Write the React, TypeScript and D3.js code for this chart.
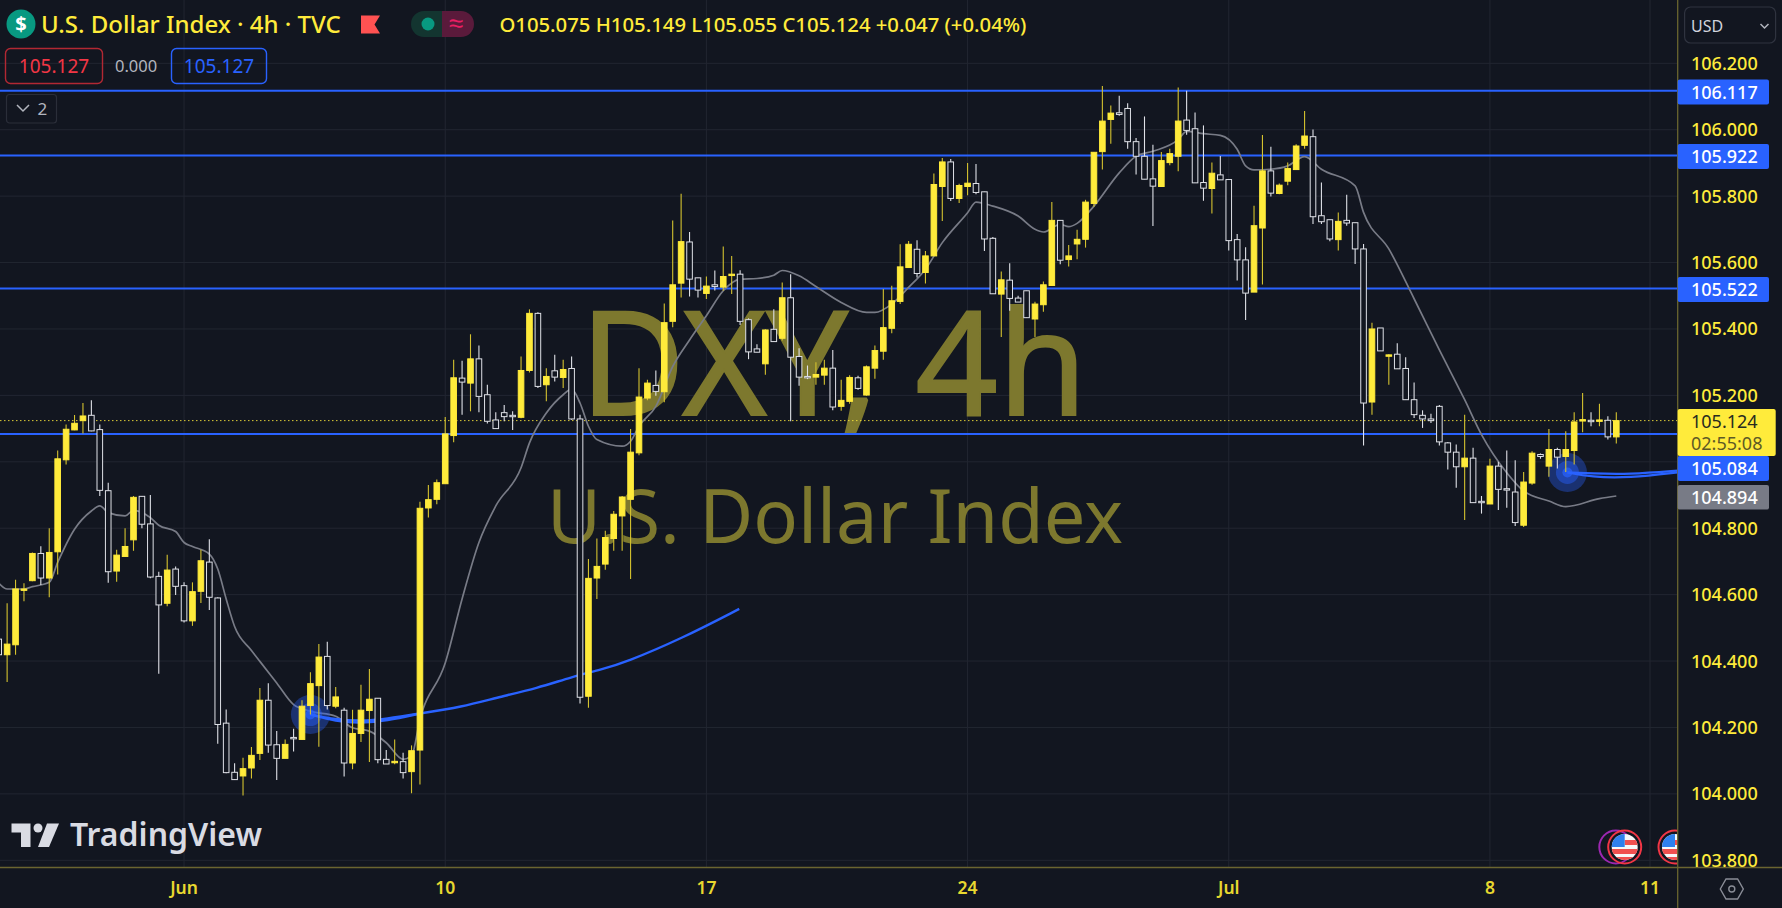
import React from 'react';
import * as d3 from 'd3';

// candles, one row = 10 candles (4h bars)
const opens = [
  104.466, 104.419, 104.449, 104.615, 104.642, 104.724, 104.650, 104.729, 105.006, 105.096,
  105.124, 105.140, 105.097, 104.913, 104.671, 104.715, 104.765, 104.896, 104.813, 104.655,
  104.574, 104.677, 104.627, 104.521, 104.610, 104.698, 104.590, 104.213, 104.065, 104.054,
  104.078, 104.122, 104.282, 104.148, 104.107, 104.170, 104.164, 104.266, 104.326, 104.414,
  104.264, 104.252, 104.093, 104.182, 104.251, 104.288, 104.104, 104.095, 104.097, 104.067,
  104.132, 104.861, 104.887, 104.934, 105.079, 105.252, 105.237, 105.310, 105.202, 105.126,
  105.148, 105.140, 105.134, 105.275, 105.447, 105.232, 105.274, 105.254, 105.281, 105.129,
  104.294, 104.650, 104.692, 104.769, 104.837, 104.887, 105.027, 105.192, 105.230, 105.211,
  105.423, 105.538, 105.662, 105.554, 105.507, 105.533, 105.526, 105.562, 105.565, 105.428,
  105.340, 105.295, 105.399, 105.372, 105.494, 105.317, 105.257, 105.255, 105.261, 105.282,
  105.167, 105.182, 105.253, 105.201, 105.282, 105.333, 105.402, 105.483, 105.585, 105.640,
  105.570, 105.620, 105.829, 105.903, 105.793, 105.829, 105.838, 105.813, 105.673, 105.505,
  105.547, 105.493, 105.515, 105.430, 105.473, 105.531, 105.727, 105.609, 105.656, 105.670,
  105.778, 105.934, 106.031, 106.051, 106.064, 105.964, 105.920, 105.852, 105.829, 105.901,
  105.920, 106.029, 106.003, 105.841, 105.823, 105.864, 105.850, 105.669, 105.608, 105.511,
  105.704, 105.876, 105.808, 105.845, 105.880, 105.953, 105.979, 105.741, 105.729, 105.669,
  105.727, 105.720, 105.641, 105.180, 105.403, 105.319, 105.324, 105.281, 105.187, 105.140,
  105.129, 105.167, 105.057, 105.029, 104.985, 105.011, 104.881, 104.873, 104.987, 104.919,
  104.909, 104.809, 104.936, 105.022, 104.987, 105.037, 105.016, 105.034, 105.124, 105.125,
  105.122, 105.125, 105.075,
];
const highs = [
  104.490, 104.574, 104.645, 104.634, 104.727, 104.746, 104.800, 105.034, 105.112, 105.141,
  105.177, 105.185, 105.112, 104.937, 104.735, 104.800, 104.897, 104.897, 104.900, 104.669,
  104.720, 104.685, 104.637, 104.637, 104.735, 104.767, 104.592, 104.254, 104.092, 104.109,
  104.141, 104.319, 104.333, 104.189, 104.164, 104.196, 104.282, 104.366, 104.451, 104.458,
  104.322, 104.259, 104.253, 104.329, 104.376, 104.288, 104.132, 104.164, 104.124, 104.146,
  104.880, 104.930, 104.947, 105.135, 105.307, 105.304, 105.384, 105.350, 105.232, 105.149,
  105.171, 105.152, 105.317, 105.459, 105.450, 105.282, 105.322, 105.307, 105.317, 105.142,
  104.707, 104.769, 104.792, 104.852, 104.897, 105.099, 105.282, 105.247, 105.275, 105.477,
  105.727, 105.807, 105.692, 105.554, 105.558, 105.576, 105.648, 105.620, 105.577, 105.432,
  105.354, 105.399, 105.459, 105.540, 105.565, 105.342, 105.290, 105.300, 105.307, 105.337,
  105.247, 105.261, 105.259, 105.290, 105.350, 105.520, 105.530, 105.655, 105.665, 105.667,
  105.635, 105.868, 105.915, 105.912, 105.837, 105.900, 105.897, 105.813, 105.677, 105.573,
  105.598, 105.500, 105.515, 105.482, 105.543, 105.782, 105.727, 105.653, 105.699, 105.789,
  105.932, 106.132, 106.073, 106.102, 106.080, 105.975, 106.040, 105.955, 105.933, 105.943,
  106.127, 106.117, 106.052, 106.013, 105.901, 105.921, 105.850, 105.686, 105.646, 105.771,
  105.984, 105.949, 105.838, 105.901, 105.956, 106.056, 106.001, 105.841, 105.729, 105.751,
  105.804, 105.720, 105.656, 105.419, 105.403, 105.324, 105.357, 105.315, 105.239, 105.155,
  105.145, 105.171, 105.060, 105.052, 105.142, 105.042, 104.897, 105.009, 105.000, 105.034,
  105.005, 104.969, 105.032, 105.025, 105.099, 105.042, 105.092, 105.149, 105.207, 105.149,
  105.175, 105.137, 105.149,
];
const lows = [
  104.400, 104.337, 104.419, 104.580, 104.640, 104.629, 104.592, 104.661, 104.992, 105.095,
  105.085, 105.092, 104.897, 104.636, 104.639, 104.714, 104.732, 104.800, 104.649, 104.362,
  104.565, 104.599, 104.516, 104.506, 104.575, 104.554, 104.151, 104.062, 104.042, 103.995,
  104.046, 104.102, 104.124, 104.042, 104.107, 104.128, 104.164, 104.239, 104.142, 104.254,
  104.258, 104.052, 104.074, 104.156, 104.096, 104.092, 104.090, 104.089, 104.046, 104.002,
  104.028, 104.832, 104.872, 104.934, 105.059, 105.142, 105.152, 105.149, 105.115, 105.100,
  105.122, 105.096, 105.131, 105.269, 105.222, 105.182, 105.242, 105.222, 105.127, 104.272,
  104.259, 104.587, 104.675, 104.732, 104.732, 104.647, 105.020, 105.185, 105.199, 105.179,
  105.405, 105.495, 105.498, 105.495, 105.490, 105.516, 105.515, 105.505, 105.412, 105.309,
  105.330, 105.262, 105.362, 105.365, 105.122, 105.229, 105.249, 105.232, 105.232, 105.155,
  105.154, 105.175, 105.217, 105.199, 105.250, 105.307, 105.387, 105.475, 105.585, 105.555,
  105.537, 105.620, 105.725, 105.785, 105.779, 105.803, 105.806, 105.635, 105.506, 105.376,
  105.455, 105.481, 105.434, 105.376, 105.452, 105.531, 105.595, 105.588, 105.610, 105.645,
  105.768, 105.880, 105.958, 106.042, 105.943, 105.865, 105.851, 105.710, 105.829, 105.893,
  105.875, 105.985, 105.840, 105.786, 105.748, 105.849, 105.636, 105.546, 105.427, 105.511,
  105.534, 105.799, 105.806, 105.833, 105.880, 105.943, 105.716, 105.716, 105.664, 105.636,
  105.711, 105.596, 105.049, 105.142, 105.334, 105.232, 105.280, 105.187, 105.132, 105.102,
  105.117, 105.049, 104.977, 104.922, 104.825, 104.877, 104.844, 104.873, 104.855, 104.862,
  104.807, 104.804, 104.931, 105.009, 104.955, 104.980, 104.969, 104.992, 105.089, 105.107,
  105.107, 105.067, 105.055,
];
const closes = [
  104.419, 104.451, 104.617, 104.617, 104.724, 104.650, 104.727, 105.009, 105.098, 105.116,
  105.138, 105.093, 104.914, 104.669, 104.719, 104.745, 104.893, 104.812, 104.653, 104.569,
  104.674, 104.625, 104.521, 104.609, 104.702, 104.592, 104.209, 104.064, 104.043, 104.076,
  104.116, 104.282, 104.147, 104.107, 104.149, 104.166, 104.264, 104.332, 104.412, 104.266,
  104.292, 104.093, 104.182, 104.252, 104.285, 104.103, 104.090, 104.098, 104.064, 104.130,
  104.860, 104.886, 104.937, 105.084, 105.253, 105.240, 105.310, 105.197, 105.122, 105.100,
  105.136, 105.136, 105.275, 105.447, 105.227, 105.257, 105.255, 105.278, 105.129, 104.291,
  104.649, 104.685, 104.772, 104.842, 104.894, 105.029, 105.195, 105.237, 105.212, 105.419,
  105.533, 105.663, 105.550, 105.517, 105.529, 105.528, 105.558, 105.565, 105.423, 105.331,
  105.330, 105.397, 105.362, 105.494, 105.315, 105.255, 105.253, 105.263, 105.282, 105.165,
  105.185, 105.254, 105.221, 105.286, 105.335, 105.404, 105.485, 105.587, 105.655, 105.567,
  105.620, 105.835, 105.903, 105.793, 105.832, 105.839, 105.811, 105.671, 105.506, 105.548,
  105.492, 105.481, 105.434, 105.475, 105.533, 105.727, 105.607, 105.620, 105.670, 105.782,
  105.932, 106.026, 106.050, 106.046, 105.964, 105.920, 105.851, 105.830, 105.907, 105.928,
  106.026, 105.998, 105.840, 105.824, 105.869, 105.849, 105.666, 105.608, 105.508, 105.711,
  105.876, 105.809, 105.833, 105.883, 105.951, 105.981, 105.738, 105.723, 105.671, 105.724,
  105.719, 105.641, 105.177, 105.400, 105.334, 105.322, 105.280, 105.187, 105.142, 105.129,
  105.124, 105.060, 105.029, 104.985, 105.011, 104.877, 104.877, 104.987, 104.917, 104.916,
  104.817, 104.939, 105.026, 105.016, 105.037, 105.014, 105.037, 105.120, 105.127, 105.122,
  105.126, 105.075, 105.124,
];

// moving average, [bar index, value]
const maBars = [0, 1, 3, 4, 6, 7, 9, 11, 12, 13, 15, 16, 18, 19, 21, 22, 23, 25, 26, 27, 28, 30, 31, 33, 35, 37, 40, 42, 44, 46, 48, 49, 50, 53, 55, 57, 59, 62, 63, 65, 67, 68, 69, 70, 71, 74, 75, 76, 78, 80, 82, 84, 86, 88, 90, 92, 93, 95, 97, 100, 103, 104, 106, 108, 110, 112, 115, 116, 118, 121, 123, 124, 126, 127, 128, 130, 133, 135, 137, 140, 141, 143, 145, 147, 148, 149, 151, 153, 155, 157, 161, 162, 165, 168, 171, 174, 176, 179, 181, 184, 186, 190, 192];
const maValues = [104.635, 104.617, 104.617, 104.624, 104.637, 104.697, 104.797, 104.852, 104.867, 104.847, 104.837, 104.854, 104.832, 104.809, 104.790, 104.757, 104.745, 104.722, 104.677, 104.587, 104.504, 104.432, 104.399, 104.334, 104.269, 104.249, 104.234, 104.199, 104.189, 104.154, 104.104, 104.114, 104.224, 104.394, 104.587, 104.757, 104.867, 104.982, 105.057, 105.147, 105.202, 105.219, 105.177, 105.107, 105.067, 105.047, 105.062, 105.107, 105.167, 105.287, 105.367, 105.440, 105.515, 105.550, 105.552, 105.562, 105.576, 105.560, 105.528, 105.480, 105.450, 105.450, 105.475, 105.525, 105.580, 105.660, 105.750, 105.782, 105.770, 105.740, 105.700, 105.692, 105.715, 105.708, 105.718, 105.770, 105.870, 105.920, 105.935, 105.970, 105.995, 105.988, 105.983, 105.941, 105.891, 105.879, 105.881, 105.891, 105.919, 105.881, 105.831, 105.751, 105.641, 105.491, 105.337, 105.187, 105.082, 104.967, 104.912, 104.882, 104.865, 104.889, 104.897];

// the two anchored blue curves
const curveABars = [37, 40, 43, 46, 50, 55, 59, 64, 68, 71.5, 74.4, 81.1, 87.9];
const curveAValues = [104.239, 104.224, 104.219, 104.226, 104.242, 104.262, 104.289, 104.319, 104.352, 104.374, 104.396, 104.468, 104.557];
const curveAFanBars = [37, 40, 43, 46, 50];
const curveAFanValues = [104.239, 104.218, 104.213, 104.220, 104.242];
const curveBBars = [186.2, 189, 193.5, 199.5];
const curveBUpper = [104.968, 104.965, 104.962, 104.974];
const curveBLower = [104.968, 104.954, 104.951, 104.969];

const priceTicks = [106.2, 106.0, 105.8, 105.6, 105.4, 105.2, 105.0, 104.8, 104.6, 104.4, 104.2, 104.0, 103.8];
// 105.000 sits under the price tags, the axis does not show it
const priceTickLabels = priceTicks.filter(t => t !== 105.0);
const levels = [106.117, 105.922, 105.522, 105.084];
const timeBars = [22, 53, 84, 115, 146, 177, 196];
const timeLabels = ['Jun', '10', '17', '24', 'Jul', '8', '11'];
const lastPrice = 105.124;

const W = 1782;
const H = 908;
const axisX = 1677.7;
const axisY = 867.5;
const BG = '#121620';
const GRID = '#222631';
const YEL = '#ffeb3b';
const BLUE = '#2962ff';
const HOLLOW = '#dfe1e7';
const FONT = '"Noto Sans", sans-serif';

const x = d3.scaleLinear().domain([0, 200]).range([-1.3, 1683.7]);
const y = d3.scaleLinear().domain([103.8, 106.2]).range([860.3, 63.3]);

const maLine = d3.line<number>()
  .x((_, i) => x(maBars[i]))
  .y(d => y(d))
  .curve(d3.curveMonotoneX);

const curveLine = (bars: number[]) => d3.line<number>()
  .x((_, i) => x(bars[i]))
  .y(d => y(d))
  .curve(d3.curveBasis);

// pulsing dot where a curve is anchored
const Blob = ({ bar, price }: { bar: number; price: number }) => (
  <g transform={`translate(${x(bar)},${y(price)})`}>
    <circle r={19.5} fill={BLUE} opacity={0.36} />
    <circle r={11.5} fill={BLUE} opacity={0.45} />
    <circle r={5} fill={BLUE} opacity={0.7} />
  </g>
);

// US flag event marker
const Flag = ({ id, cx, cy }: { id: string; cx: number; cy: number }) => (
  <g transform={`translate(${cx},${cy})`}>
    <clipPath id={id}><circle r={13} /></clipPath>
    <g clipPath={`url(#${id})`}>
      <rect x={-14} y={-14} width={28} height={28} fill="#f7f7f7" />
      <rect x={0} y={-7} width={14} height={5} fill="#f0504f" />
      <rect x={-14} y={2} width={28} height={5} fill="#f0504f" />
      <rect x={-14} y={10} width={28} height={5} fill="#f0504f" />
      <rect x={-14} y={-14} width={14} height={14} fill="#2f80ed" />
    </g>
    <circle r={16.5} fill="none" stroke="#f23645" strokeWidth={2} />
  </g>
);

const PriceTag = ({ top, h, fill, text, color = '#fff', w = 91.3 }: { top: number; h: number; fill: string; text: string; color?: string; w?: number }) => (
  <g>
    <rect x={axisX} y={top} width={w} height={h} rx={2} fill={fill} />
    <text x={1691} y={top + h / 2 + 6.5} fontSize={18} fontWeight={500} fill={color}>{text}</text>
  </g>
);

export default function App() {
  document.body.style.margin = '0';
  document.body.style.background = BG;

  return (
    <svg width={W} height={H} style={{ position: 'fixed', left: 0, top: 0, display: 'block' }} fontFamily={FONT}>
      <defs>
        <clipPath id="plot"><rect x={0} y={0} width={axisX} height={axisY} /></clipPath>
      </defs>
      <rect width={W} height={H} fill={BG} />

      <g clipPath="url(#plot)">
        {priceTicks.map(t => (
          <line key={t} x1={0} x2={axisX} y1={y(t)} y2={y(t)} stroke={GRID} />
        ))}
        {timeBars.map(b => (
          <line key={b} x1={x(b)} x2={x(b)} y1={0} y2={axisY} stroke={GRID} />
        ))}

        <text x={580} y={415} fontSize={144} fill="#7d782e" stroke="#7d782e" strokeWidth={2}>DXY, 4h</text>
        <text x={547} y={542.7} fontSize={74} fill="#7d782e">U.S. Dollar Index</text>

        {levels.map(l => (
          <line key={l} x1={0} x2={axisX} y1={y(l)} y2={y(l)} stroke={BLUE} strokeWidth={2} />
        ))}
        <line x1={0} x2={axisX} y1={y(lastPrice)} y2={y(lastPrice)} stroke={YEL} strokeOpacity={0.85} strokeDasharray="1.5 2.5" />

        <path d={maLine(maValues) ?? ''} fill="none" stroke="#787b86" strokeWidth={1.7} />

        <Blob bar={curveABars[0]} price={curveAValues[0]} />
        <path d={curveLine(curveABars)(curveAValues) ?? ''} fill="none" stroke={BLUE} strokeWidth={2.4} />
        <path d={curveLine(curveAFanBars)(curveAFanValues) ?? ''} fill="none" stroke={BLUE} strokeWidth={2.4} />
        <Blob bar={curveBBars[0]} price={curveBUpper[0]} />
        <path d={curveLine(curveBBars)(curveBUpper) ?? ''} fill="none" stroke={BLUE} strokeWidth={2.2} />
        <path d={curveLine(curveBBars)(curveBLower) ?? ''} fill="none" stroke={BLUE} strokeWidth={2.2} />

        {opens.map((o, i) => {
          const c = closes[i];
          const up = c >= o;
          const color = up ? YEL : HOLLOW;
          const wick = up ? '#d4c22f' : HOLLOW;
          const top = y(Math.max(o, c));
          const bh = Math.max(Math.abs(y(o) - y(c)), 1.4);
          return (
            <g key={i}>
              <line x1={x(i)} x2={x(i)} y1={y(highs[i])} y2={y(lows[i])} stroke={wick} strokeWidth={1.1} />
              <rect x={x(i) - 2.8} y={top} width={5.6} height={bh} fill={up ? YEL : BG} stroke={color} strokeWidth={1} />
            </g>
          );
        })}

        {/* TradingView logo */}
        <g fill="#d9dbe3">
          <path d="M11.5 823.5 H30.5 V847 H21 V832.5 H11.5 Z" />
          <circle cx={38} cy={828} r={4.5} />
          <path d="M47 823.5 H59 L49 847 H38 Z" />
        </g>
        <text x={70} y={846} fontSize={32} fontWeight={600} fill="#d9dbe3">TradingView</text>

        {/* economic events */}
        <circle cx={1615.8} cy={847} r={16.5} fill={BG} stroke="#9c27b0" strokeWidth={2} />
        <Flag id="f1" cx={1624.7} cy={847} />
        <Flag id="f2" cx={1675} cy={847} />
      </g>

      {/* axis borders */}
      <line x1={axisX} x2={axisX} y1={0} y2={H} stroke="#6b6530" strokeWidth={1.3} />
      <line x1={0} x2={W} y1={axisY} y2={axisY} stroke="#6b6530" strokeWidth={1.3} />

      {priceTickLabels.map(t => (
        <text key={t} x={1691} y={y(t) + 6.5} fontSize={18} fill={YEL} fontWeight={500}>{t.toFixed(3)}</text>
      ))}
      {timeBars.map((b, i) => (
        <text key={b} x={x(b)} y={894} fontSize={17.5} fontWeight={600} fill="#e8d82f" textAnchor="middle">{timeLabels[i]}</text>
      ))}

      <PriceTag top={79.5} h={25} fill={BLUE} text={levels[0].toFixed(3)} />
      <PriceTag top={144} h={25} fill={BLUE} text={levels[1].toFixed(3)} />
      <PriceTag top={277} h={25} fill={BLUE} text={levels[2].toFixed(3)} />
      <PriceTag top={456} h={25} fill={BLUE} text={levels[3].toFixed(3)} />
      <PriceTag top={485} h={24.5} fill="#787b86" text="104.894" />
      <g>
        <rect x={axisX} y={409} width={98} height={47} rx={2} fill={YEL} />
        <text x={1691} y={428} fontSize={18} fill="#272a20">{lastPrice.toFixed(3)}</text>
        <text x={1691} y={450} fontSize={18} fill="#5e5a26">02:55:08</text>
      </g>

      {/* hexagon settings icon */}
      <g transform="translate(1731.8,889)" fill="none" stroke="#8a8d97" strokeWidth={1.4}>
        <path d="M-11.5 0 L-5.8 -10 H5.8 L11.5 0 L5.8 10 H-5.8 Z" />
        <circle r={3} />
      </g>

      {/* USD button */}
      <rect x={1684.6} y={7} width={91} height={36} rx={6} fill="none" stroke="#2f333f" strokeWidth={1.2} />
      <text x={1691} y={32} fontSize={16} fill="#d1d4dc">USD</text>
      <path d="M1760.5 24 L1764.5 28 L1768.5 24" fill="none" stroke="#b2b5be" strokeWidth={1.5} />

      {/* legend */}
      <circle cx={21} cy={24} r={14.5} fill="#089981" />
      <text x={21} y={31} fontSize={20} fontWeight={700} fill="#fff" textAnchor="middle">$</text>
      <text x={41} y={33} fontSize={24} fontWeight={500} fill={YEL}>U.S. Dollar Index · 4h · TVC</text>
      <path d="M361 15.5 H380 L374.5 24.5 L380 33.5 H361 Z" fill="#ff5252" />
      <path d="M442 11 H424 a13 13 0 0 0 0 26 H442 Z" fill="#133530" />
      <path d="M442 11 H461 a13 13 0 0 1 0 26 H442 Z" fill="#5a1a3b" />
      <circle cx={428} cy={24} r={6.5} fill="#089981" />
      <text x={456} y={32} fontSize={26} fill="#e91e63" textAnchor="middle">≈</text>
      <text x={499.4} y={31.5} fontSize={20.3} fontWeight={500} fill={YEL}>O105.075 H105.149 L105.055 C105.124 +0.047 (+0.04%)</text>

      <rect x={5.5} y={48.5} width={97} height={35} rx={5} fill="none" stroke="#b22833" strokeWidth={1.4} />
      <text x={54} y={73} fontSize={19} fill="#f23645" textAnchor="middle">105.127</text>
      <text x={115} y={72} fontSize={16.5} fill="#b2b5be">0.000</text>
      <rect x={171.5} y={48.5} width={95} height={35} rx={5} fill="none" stroke={BLUE} strokeWidth={1.4} />
      <text x={219} y={73} fontSize={19} fill={BLUE} textAnchor="middle">105.127</text>

      <rect x={6.5} y={94.5} width={50} height={28.5} rx={3} fill={BG} stroke="#2a2e39" strokeWidth={1.2} />
      <path d="M17 105 L23 111 L29 105" fill="none" stroke="#b2b5be" strokeWidth={1.5} />
      <text x={37.5} y={114.5} fontSize={17} fill="#b2b5be">2</text>
    </svg>
  );
}
